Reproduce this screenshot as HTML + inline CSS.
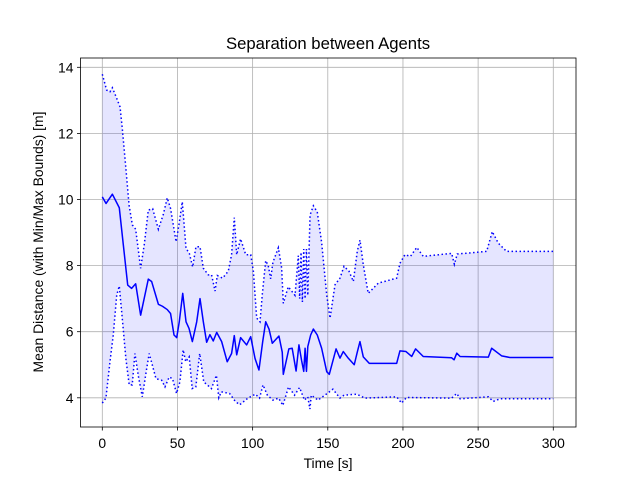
<!DOCTYPE html>
<html><head><meta charset="utf-8"><style>
body{margin:0;background:#fff;}
svg{display:block;font-family:"Liberation Sans","DejaVu Sans",sans-serif;}
</style></head><body>
<svg id="chart" width="640" height="480" viewBox="0 0 640 480" xmlns="http://www.w3.org/2000/svg"></svg>
<script>
const xTicks=[0,50,100,150,200,250,300];
const yTicks=[4,6,8,10,12,14];
const meanT=[0,2.5,6.7,11.3,14,16.9,19.5,22.2,25.5,30.6,32.8,37.3,40,43.2,45.4,47.7,49.5,51.2,53.5,55.7,57.7,59.9,62.8,65,67.2,69.4,71.6,73.8,76.1,79.4,83.1,86,87.8,89.4,92,96,98.7,101.6,104.2,106.7,108.7,110.9,113.1,117.5,119.7,120.4,124.1,126.3,128.9,130.8,132.6,134,134.9,135.8,136.7,138.6,140.4,143,145.9,149.3,151,155.5,158.1,160.3,163.6,167.6,169.6,171.4,173.6,177.6,195.8,198,202,205.8,208.4,213.5,232.4,234,235.8,238,256.8,259,265.6,271.1,300];
const meanV=[10.08,9.88,10.16,9.75,8.62,7.41,7.31,7.45,6.5,7.59,7.52,6.83,6.77,6.67,6.55,5.9,5.82,6.3,7.16,6.3,6.1,5.7,6.3,7.0,6.3,5.68,5.91,5.72,5.98,5.7,5.09,5.34,5.88,5.3,5.82,5.6,5.85,5.19,4.84,5.7,6.3,6.08,5.65,5.87,5.38,4.71,5.48,5.5,4.81,5.6,5.12,4.8,5.5,4.8,5.55,5.9,6.08,5.9,5.5,4.79,4.71,5.48,5.2,5.4,5.2,5.0,5.38,5.7,5.24,5.04,5.04,5.42,5.4,5.25,5.48,5.25,5.21,5.15,5.35,5.25,5.23,5.5,5.27,5.22,5.22];
const maxT=[0,2.9,5.1,6.7,9.6,11.8,13.3,15.5,17.8,20,22.2,25.5,27.9,30.6,33.5,37.3,40.6,43.2,45.4,49.1,51.2,53.2,55.7,57.9,60.1,62.3,65,67.2,70.5,72.7,75,76.5,80,83.8,86,87.8,89.4,92,95.4,98.7,100.5,102.7,104.9,106.5,108.7,110.4,112,113.5,117.1,119.3,120.4,123.7,128.2,130.4,131.3,132.2,133.1,134,134.9,135.8,136.7,138.2,140.4,143,145.9,149.3,151.5,154.8,158.1,160.8,164.1,167,169.6,171.4,173.6,176.9,183.6,195.8,198,201.3,205,209.2,213.5,232.4,234.2,236.1,255.7,259.4,263.4,268.9,300];
const maxV=[13.79,13.31,13.26,13.38,13.06,12.8,12.15,11.04,9.83,9.23,9.1,7.92,8.63,9.68,9.72,9.1,9.55,10.05,9.73,8.72,9.3,9.93,8.52,8.37,7.96,8.57,8.57,7.92,7.72,7.72,7.23,7.7,7.62,7.83,8.33,9.45,8.33,8.81,8.33,8.33,7.83,6.41,6.3,7.16,8.15,8.0,7.6,8.1,8.54,7.93,6.86,7.36,7.1,8.3,7.0,8.4,6.9,8.5,7.0,8.5,7.1,9.53,9.81,9.62,8.7,7.1,6.41,7.42,7.62,7.98,7.83,7.52,8.43,8.77,8.03,7.16,7.47,7.62,8.07,8.33,8.28,8.55,8.28,8.37,8.04,8.35,8.43,9.03,8.68,8.43,8.43];
const minT=[0,2.4,5.1,7.3,9.6,11.3,13.5,15.7,17.9,19.9,21.7,23.9,26.6,29.5,31.2,35.7,39.5,41.7,44.5,46.7,49.4,51.6,53.8,55.5,57.8,59.8,62.2,64.8,67.5,72.6,75.9,77.5,79.2,84.7,88.5,91.4,96.9,101.8,104.6,106.9,109.8,113.5,117.3,120.1,123.9,127.9,131.2,134.5,136.7,138.1,139,143.5,149,153.4,158.1,160.8,169.2,174.7,195.8,199.1,202.4,232.4,235.8,238,256.8,260.1,264.5,300];
const minV=[3.84,3.99,5.09,5.9,7.11,7.38,6.3,5.18,4.39,4.39,5.34,4.68,4.03,4.88,5.34,4.58,4.53,4.33,4.63,4.58,4.13,4.48,5.45,5.09,5.24,4.28,4.33,5.34,4.48,4.28,4.68,4.0,4.18,4.13,3.89,3.79,3.99,4.11,3.99,4.39,4.08,3.93,3.99,3.77,4.33,4.08,4.31,3.93,4.03,3.66,4.08,3.93,4.11,4.26,3.99,4.08,4.11,3.99,4.03,3.84,4.01,3.99,4.13,3.97,4.03,3.89,3.97,3.97];

const L=80.5,R=576,T=58,B=427;
const X=t=>102.3+t*1.5033;
const Y=v=>397.8-(v-4)*33.05;
const NS='http://www.w3.org/2000/svg';
const svg=document.getElementById('chart');
function mk(tag,attrs,parent){const e=document.createElementNS(NS,tag);for(const k in attrs)e.setAttribute(k,attrs[k]);(parent||svg).appendChild(e);return e;}
const pts=(ts,vs)=>ts.map((t,i)=>X(t).toFixed(2)+','+Y(vs[i]).toFixed(2));

// grid
xTicks.forEach(t=>{const g=mk('line',{x1:X(t),x2:X(t),y1:T,y2:B,stroke:'#b0b0b0','stroke-width':0.8});

});
yTicks.forEach(v=>{const g=mk('line',{x1:L,x2:R,y1:Y(v),y2:Y(v),stroke:'#b0b0b0','stroke-width':0.8});

});

// fill
const band=mk('polygon',{points:pts(maxT,maxV).concat(pts(minT,minV).reverse()).join(' '),fill:'#0000ff','fill-opacity':0.1,stroke:'none'});



const maxL=mk('polyline',{points:pts(maxT,maxV).join(' '),fill:'none',stroke:'#0000ff','stroke-width':1.5,'stroke-dasharray':'1.5 2.5'});


const minL=mk('polyline',{points:pts(minT,minV).join(' '),fill:'none',stroke:'#0000ff','stroke-width':1.5,'stroke-dasharray':'1.5 2.5'});


const meanL=mk('polyline',{points:pts(meanT,meanV).join(' '),fill:'none',stroke:'#0000ff','stroke-width':1.5,'stroke-linejoin':'round'});



// frame
const fr=mk('rect',{x:L,y:T,width:R-L,height:B-T,fill:'none',stroke:'#000','stroke-width':0.8});



xTicks.forEach(t=>{
  const tk=mk('line',{x1:X(t),x2:X(t),y1:B,y2:B+3.5,stroke:'#000','stroke-width':0.8});
  
  
  const tx=mk('text',{x:X(t),y:B+21,'font-size':13.9,'text-anchor':'middle',fill:'#000'});
  tx.textContent=t;
  
  
});
yTicks.forEach(v=>{
  const tk=mk('line',{x1:L-3.5,x2:L,y1:Y(v),y2:Y(v),stroke:'#000','stroke-width':0.8});
  
  
  const tx=mk('text',{x:L-7,y:Y(v)+5,'font-size':13.9,'text-anchor':'end',fill:'#000'});
  tx.textContent=v;
  
  
});

const title=mk('text',{x:328,y:49,'font-size':16.7,'text-anchor':'middle',fill:'#000'});
title.textContent='Separation between Agents';


const xl=mk('text',{x:328,y:468,'font-size':13.9,'text-anchor':'middle',fill:'#000'});
xl.textContent='Time [s]';


const yl=mk('text',{x:0,y:0,'font-size':13.9,'text-anchor':'middle',fill:'#000',transform:'translate(43,242) rotate(-90)'});
yl.textContent='Mean Distance (with Min/Max Bounds) [m]';


</script>
</body></html>
